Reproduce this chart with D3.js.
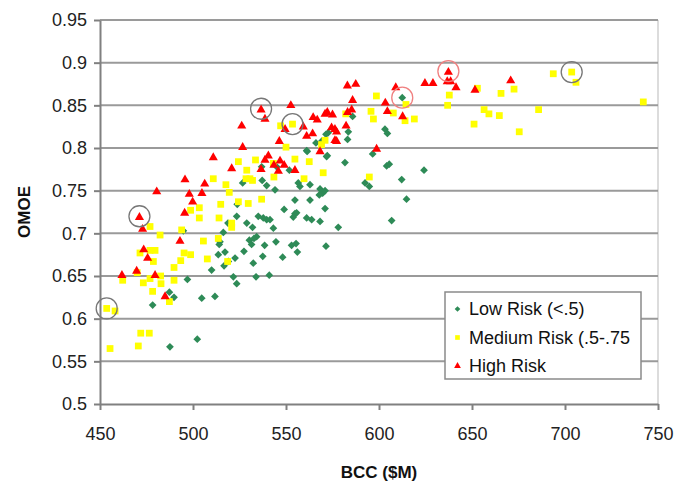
<!DOCTYPE html>
<meta charset="utf-8">
<style>
body{ margin:0; background:#fff; }
svg{ font-family: "Liberation Sans", Arial, sans-serif; }
.grid line{ stroke:#9a9a9a; stroke-width:2; }
.axis path, .axis line{ stroke:#808080; stroke-width:2; }
.axis text{ fill:#222; font-size:18px; }
.lab{ font-weight:bold; font-size:17px; fill:#111; }
</style>
<body>
<script src="https://d3js.org/d3.v7.min.js"></script>
<script>

var width = 676,
    height = 484;

var margin = {top: 20, right: 18, bottom: 80, left: 100};

// [BCC, OMOE]
var lowRisk = [
  [612.5,0.859],[603.2,0.822],[604.5,0.817],[596.6,0.793],[604.1,0.779],[605.5,0.781],
  [585.8,0.837],[572.7,0.818],[571.5,0.816],[583.1,0.810],[583.5,0.819],[561.1,0.797],
  [571.8,0.790],[581.7,0.783],[551.8,0.774],[624.2,0.774],[592.5,0.759],[594.8,0.755],
  [612.2,0.763],[614.8,0.740],[606.8,0.715],[578.1,0.707],[526.7,0.759],[523.8,0.734],
  [523.5,0.720],[528.9,0.712],[518.8,0.712],[532.0,0.707],[536.9,0.778],[537.2,0.762],
  [539.6,0.756],[535.1,0.720],[537.8,0.718],[539.6,0.716],[534.2,0.696],[543.2,0.706],
  [544.1,0.751],[556.6,0.759],[557.5,0.755],[554.8,0.739],[554.8,0.723],[553.9,0.719],
  [549.0,0.728],[562.9,0.757],[562.9,0.739],[561.1,0.718],[563.8,0.716],[568.3,0.714],
  [571.0,0.729],[568.3,0.752],[569.7,0.747],[571.0,0.750],[567.9,0.745],[561.4,0.796],
  [572.2,0.791],[566.1,0.806],[569.2,0.808],[538.5,0.686],[544.6,0.690],[553.0,0.686],
  [555.4,0.688],[556.1,0.678],[548.2,0.672],[537.5,0.673],[571.5,0.685],[541.0,0.651],
  [530.3,0.692],[532.8,0.694],[514.5,0.690],[513.6,0.675],[517.2,0.678],[522.6,0.671],
  [519.0,0.667],[527.4,0.679],[532.4,0.665],[533.9,0.649],[521.7,0.649],[523.5,0.641],
  [510.0,0.657],[497.0,0.646],[511.8,0.626],[504.7,0.624],[487.3,0.631],[489.8,0.625],
  [478.3,0.616],[487.6,0.567],[502.3,0.576],[516.7,0.662],[514.1,0.687],[555.7,0.724],
  [541.4,0.716],[494.8,0.703],[516.3,0.701],[531.5,0.687],[545.0,0.778]
];

var mediumRisk = [
  [703.6,0.889],[705.9,0.877],[693.7,0.887],[742.1,0.854],[652.9,0.870],[672.6,0.869],
  [665.6,0.864],[637.8,0.862],[636.9,0.850],[656.5,0.845],[659.1,0.840],[664.7,0.838],
  [685.8,0.845],[651.1,0.828],[675.4,0.819],[598.6,0.861],[614.5,0.851],[607.7,0.841],
  [614.0,0.832],[619.0,0.834],[595.7,0.843],[597.0,0.834],[594.8,0.766],[582.1,0.840],
  [553.5,0.828],[547.1,0.826],[571.0,0.809],[569.1,0.804],[554.8,0.787],[562.5,0.784],
  [550.0,0.801],[570.0,0.771],[543.2,0.782],[559.7,0.764],[524.4,0.784],[533.6,0.786],
  [528.9,0.774],[510.9,0.764],[517.7,0.757],[519.5,0.748],[514.9,0.734],[514.0,0.718],
  [520.8,0.707],[528.5,0.764],[532.0,0.762],[530.6,0.764],[529.7,0.735],[524.4,0.737],
  [536.9,0.740],[503.4,0.730],[498.7,0.727],[503.4,0.718],[476.9,0.708],[482.3,0.698],
  [493.9,0.704],[505.6,0.691],[513.6,0.694],[471.5,0.677],[476.9,0.680],[479.6,0.680],
  [478.7,0.667],[495.2,0.677],[498.7,0.675],[493.4,0.668],[489.8,0.660],[507.7,0.670],
  [462.2,0.645],[482.6,0.650],[473.3,0.642],[476.9,0.647],[482.8,0.641],[489.8,0.645],
  [478.3,0.632],[487.3,0.620],[453.6,0.612],[458.1,0.609],[471.9,0.583],[476.5,0.583],
  [455.4,0.565],[470.6,0.568],[518.6,0.667],[520.8,0.712],[543.5,0.766],[470.0,0.654]
];

var highRisk = [
  [637.3,0.890],[624.7,0.877],[629.0,0.877],[636.7,0.879],[638.5,0.879],[641.4,0.872],
  [651.6,0.869],[670.8,0.880],[609.0,0.872],[583.0,0.874],[587.5,0.876],[585.8,0.857],
  [603.4,0.854],[604.5,0.844],[612.7,0.838],[598.7,0.800],[583.1,0.843],[585.3,0.846],
  [582.3,0.827],[572.2,0.843],[571.0,0.841],[575.0,0.840],[564.6,0.837],[566.8,0.834],
  [559.3,0.826],[549.5,0.823],[564.3,0.818],[561.1,0.815],[576.3,0.823],[577.2,0.820],
  [574.5,0.825],[576.3,0.810],[577.2,0.809],[568.3,0.797],[546.4,0.809],[552.6,0.851],
  [536.6,0.846],[538.7,0.835],[526.2,0.827],[526.7,0.802],[510.9,0.790],[520.8,0.777],
  [536.6,0.776],[538.7,0.787],[540.5,0.792],[546.8,0.786],[549.0,0.781],[545.9,0.774],
  [554.8,0.775],[543.5,0.781],[495.7,0.764],[480.5,0.750],[506.3,0.759],[498.0,0.747],
  [499.8,0.738],[504.8,0.748],[495.5,0.725],[471.2,0.720],[472.9,0.706],[493.0,0.692],
  [473.5,0.682],[475.6,0.672],[469.7,0.657],[461.8,0.652],[479.6,0.652],[485.0,0.627]
];

// circled points
var circled = [
  [453.6,0.612,"#777"],[471.2,0.720,"#777"],[536.6,0.846,"#777"],[553.5,0.828,"#777"],
  [703.6,0.889,"#777"],[612.5,0.859,"#f08080"],[637.3,0.890,"#f08080"]
];

var xTicks = [450, 500, 550, 600, 650, 700, 750];
var yTicks = [0.5, 0.55, 0.6, 0.65, 0.7, 0.75, 0.8, 0.85, 0.9, 0.95];

var legendItems = ["Low Risk (<.5)", "Medium Risk (.5-.75", "High Risk"];

var svg = d3.select("body").append("svg")
    .attr("width", width)
    .attr("height", height);

var x = d3.scaleLinear()
    .domain([450, 750])
    .range([margin.left, width - margin.right]);

var y = d3.scaleLinear()
    .domain([0.5, 0.95])
    .range([height - margin.bottom, margin.top]);

// plot border (right side light)
svg.append("line")
    .attr("x1", x(750)).attr("x2", x(750))
    .attr("y1", y(0.95)).attr("y2", y(0.5))
    .attr("stroke", "#d0d0d0").attr("stroke-width", 1.5);

svg.append("g")
    .attr("class", "grid")
  .selectAll("line")
  .data(yTicks.slice(1))
  .enter().append("line")
    .attr("x1", x(450)).attr("x2", x(750))
    .attr("y1", d => y(d)).attr("y2", d => y(d))
    .attr("stroke", d => d == 0.95 ? "#c4c4c4" : "#9a9a9a");

var fmt = d => d3.format("")(+d.toFixed(2));

svg.append("g")
    .attr("class", "axis")
    .attr("transform", "translate(" + x(450) + ",0)")
    .call(d3.axisLeft(y).tickValues(yTicks).tickFormat(fmt).tickSize(6).tickPadding(7).tickSizeOuter(0));

svg.append("g")
    .attr("class", "axis")
    .attr("transform", "translate(0," + y(0.5) + ")")
    .call(d3.axisBottom(x).tickValues(xTicks).tickSize(6).tickPadding(17).tickSizeOuter(0));

svg.selectAll(".axis .domain").attr("stroke", "#808080");

var diamond = d3.symbol().type(d3.symbolSquare).size(30);
var square = d3.symbol().type(d3.symbolSquare).size(46);
var triangle = d3.symbol().type(d3.symbolTriangle).size(36);

svg.append("g").selectAll("path")
    .data(lowRisk)
  .enter().append("path")
    .attr("d", diamond)
    .attr("fill", "#2e8b57")
    .attr("transform", d => "translate(" + x(d[0]) + "," + y(d[1]) + ") rotate(45)");

svg.append("g").selectAll("path")
    .data(mediumRisk)
  .enter().append("path")
    .attr("d", square)
    .attr("fill", "#ffff00")
    .attr("transform", d => "translate(" + x(d[0]) + "," + y(d[1]) + ")");

svg.append("g").selectAll("path")
    .data(highRisk)
  .enter().append("path")
    .attr("d", triangle)
    .attr("fill", "#ff0000")
    .attr("transform", d => "translate(" + x(d[0]) + "," + (y(d[1]) + 1) + ")");

svg.append("g").selectAll("circle")
    .data(circled)
  .enter().append("circle")
    .attr("cx", d => x(d[0]))
    .attr("cy", d => y(d[1]))
    .attr("r", 10.5)
    .attr("fill", "none")
    .attr("stroke", d => d[2])
    .attr("stroke-width", 1.3);

// axis titles
svg.append("text")
    .attr("class", "lab")
    .attr("text-anchor", "middle")
    .attr("transform", "translate(30," + (y(0.725)) + ") rotate(-90)")
    .text("OMOE");

svg.append("text")
    .attr("class", "lab")
    .attr("text-anchor", "middle")
    .attr("x", x(600))
    .attr("y", 478)
    .text("BCC ($M)");

// legend
var legend = svg.append("g")
    .attr("transform", "translate(445,292)");

legend.append("rect")
    .attr("width", 196)
    .attr("height", 87)
    .attr("fill", "#fff")
    .attr("stroke", "#8a8a8a")
    .attr("stroke-width", 1.5);

var legendMarks = [
  {sym: d3.symbol().type(d3.symbolSquare).size(16), fill: "#2e8b57", rot: 45},
  {sym: d3.symbol().type(d3.symbolSquare).size(22), fill: "#ffff00", rot: 0},
  {sym: d3.symbol().type(d3.symbolTriangle).size(20), fill: "#ff0000", rot: 0}
];

var row = legend.selectAll(".row")
    .data(legendItems)
  .enter().append("g")
    .attr("class", "row")
    .attr("transform", (d, i) => "translate(0," + (17 + i * 28.5) + ")");

row.append("path")
    .attr("d", (d, i) => legendMarks[i].sym())
    .attr("fill", (d, i) => legendMarks[i].fill)
    .attr("transform", (d, i) => "translate(12.5,0) rotate(" + legendMarks[i].rot + ")");

row.append("text")
    .attr("x", 24)
    .attr("dy", "0.36em")
    .attr("font-size", "18px")
    .attr("fill", "#111")
    .text(d => d);

</script>
